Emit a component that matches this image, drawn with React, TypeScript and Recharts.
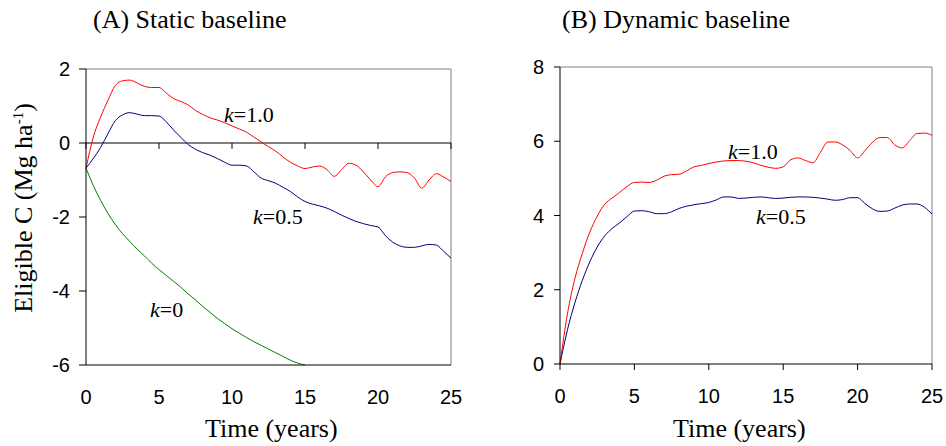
import { LineChart, Line, XAxis, YAxis, ReferenceLine } from 'recharts'

// time axis, every half year
const years = [0, 0.5, 1, 1.5, 2, 2.5, 3, 3.5, 4, 4.5, 5, 5.5, 6, 6.5, 7, 7.5, 8, 8.5, 9, 9.5, 10, 10.5, 11, 11.5, 12, 12.5, 13, 13.5, 14, 14.5, 15, 15.5, 16, 16.5, 17, 17.5, 18, 18.5, 19, 19.5, 20, 20.5, 21, 21.5, 22, 22.5, 23, 23.5, 24, 24.5, 25]

// (A) static baseline
const staticK10 = [-0.68, 0.16, 0.7, 1.15, 1.55, 1.68, 1.7, 1.62, 1.53, 1.5, 1.5, 1.35, 1.2, 1.12, 1.03, 0.88, 0.77, 0.68, 0.62, 0.55, 0.46, 0.38, 0.29, 0.16, 0.03, -0.1, -0.22, -0.38, -0.52, -0.62, -0.69, -0.65, -0.62, -0.72, -0.9, -0.72, -0.55, -0.6, -0.78, -1.0, -1.18, -0.92, -0.8, -0.78, -0.8, -0.95, -1.22, -1.0, -0.83, -0.92, -1.04]
const staticK05 = [-0.68, -0.42, -0.12, 0.25, 0.6, 0.76, 0.82, 0.78, 0.74, 0.74, 0.73, 0.57, 0.35, 0.15, -0.04, -0.17, -0.26, -0.33, -0.42, -0.52, -0.6, -0.6, -0.62, -0.78, -0.95, -1.02, -1.09, -1.2, -1.31, -1.46, -1.58, -1.65, -1.7, -1.76, -1.85, -1.95, -2.04, -2.12, -2.18, -2.23, -2.27, -2.5, -2.68, -2.78, -2.82, -2.82, -2.78, -2.74, -2.76, -2.93, -3.11]
const staticK0 = [-0.68, -1.15, -1.55, -1.9, -2.2, -2.45, -2.66, -2.87, -3.05, -3.25, -3.42, -3.58, -3.74, -3.9, -4.08, -4.24, -4.42, -4.58, -4.74, -4.88, -5.02, -5.14, -5.26, -5.37, -5.47, -5.57, -5.67, -5.77, -5.87, -5.95, -6.0, null, null, null, null, null, null, null, null, null, null, null, null, null, null, null, null, null, null, null, null]

// (B) dynamic baseline
const dynK10 = [0, 1.35, 2.3, 2.98, 3.55, 3.98, 4.3, 4.47, 4.62, 4.78, 4.89, 4.9, 4.89, 4.95, 5.06, 5.1, 5.11, 5.2, 5.31, 5.35, 5.4, 5.44, 5.47, 5.48, 5.48, 5.46, 5.42, 5.35, 5.3, 5.27, 5.31, 5.5, 5.55, 5.48, 5.42, 5.7, 5.98, 5.98, 5.9, 5.75, 5.55, 5.75, 5.97, 6.1, 6.1, 5.9, 5.82, 6.02, 6.21, 6.22, 6.16]
const dynK05 = [0, 0.92, 1.65, 2.25, 2.75, 3.15, 3.45, 3.65, 3.8, 3.97, 4.12, 4.13, 4.1, 4.05, 4.05, 4.1, 4.19, 4.25, 4.29, 4.32, 4.35, 4.42, 4.5, 4.5, 4.46, 4.47, 4.49, 4.5, 4.48, 4.46, 4.47, 4.49, 4.5, 4.5, 4.49, 4.47, 4.44, 4.41, 4.43, 4.48, 4.48, 4.32, 4.18, 4.11, 4.12, 4.2, 4.28, 4.31, 4.31, 4.22, 4.04]

const xTicks = [0, 5, 10, 15, 20, 25]
const staticYTicks = [-6, -4, -2, 0, 2]
const dynamicYTicks = [0, 2, 4, 6, 8]

const staticData = years.map((t, i) => ({ t, k10: staticK10[i], k05: staticK05[i], k0: staticK0[i] }))
const dynamicData = years.map((t, i) => ({ t, k10: dynK10[i], k05: dynK05[i] }))

const SANS = '"Liberation Sans", Arial, sans-serif'
const SERIF = '"Liberation Serif", "Times New Roman", serif'
const RED = '#ff0000'
const BLUE = '#000080'
const GREEN = '#008000'
const BORDER = '#808080'

const tickStyle = { fontSize: 20, fill: '#000', fontFamily: SANS }

function Txt({ left, top, size = 26, children }: { left: number; top: number; size?: number; children: React.ReactNode }) {
  return (
    <div style={{ position: 'absolute', left, top, fontFamily: SERIF, fontSize: size, lineHeight: 1, whiteSpace: 'nowrap', color: '#000' }}>
      {children}
    </div>
  )
}

function CurveLabel({ left, top, value }: { left: number; top: number; value: string }) {
  return <Txt left={left} top={top} size={22}><i>k</i>={value}</Txt>
}

export default function App() {
  return (
    <div style={{ position: 'absolute', left: 0, top: 0, width: 946, height: 446, background: '#fff', overflow: 'hidden' }}>
      <div style={{ position: 'absolute', left: 0, top: 0 }}>
        <LineChart width={470} height={446} data={staticData} margin={{ top: 69, right: 19, bottom: 51, left: 46 }}>
          <XAxis dataKey="t" type="number" domain={[0, 25]} ticks={xTicks} interval={0} height={30}
            axisLine={{ stroke: '#000' }} tickLine={false} tickSize={6} tickMargin={19} tick={tickStyle} />
          <YAxis type="number" domain={[-6, 2]} ticks={staticYTicks} interval={0} width={40}
            axisLine={{ stroke: '#000' }} tickLine={{ stroke: '#000' }} tickSize={7} tickMargin={9} tick={tickStyle} />
          <ReferenceLine y={2} stroke={BORDER} />
          <ReferenceLine x={25} stroke={BORDER} />
          <ReferenceLine y={0} stroke="#000" />
          {xTicks.map((t) => (
            <ReferenceLine key={t} segment={[{ x: t, y: 0 }, { x: t, y: -0.16 }]} stroke="#000" />
          ))}
          <Line dataKey="k0" type="monotone" stroke={GREEN} strokeWidth={1} dot={false} isAnimationActive={false} />
          <Line dataKey="k05" type="monotone" stroke={BLUE} strokeWidth={1} dot={false} isAnimationActive={false} />
          <Line dataKey="k10" type="monotone" stroke={RED} strokeWidth={1} dot={false} isAnimationActive={false} />
        </LineChart>
      </div>
      <div style={{ position: 'absolute', left: 470, top: 0 }}>
        <LineChart width={476} height={446} data={dynamicData} margin={{ top: 67, right: 14, bottom: 52, left: 50 }}>
          <XAxis dataKey="t" type="number" domain={[0, 25]} ticks={xTicks} interval={0} height={30}
            axisLine={{ stroke: '#000' }} tickLine={{ stroke: '#000' }} tickSize={6} tickMargin={19} tick={tickStyle} />
          <YAxis type="number" domain={[0, 8]} ticks={dynamicYTicks} interval={0} width={40}
            axisLine={{ stroke: '#000' }} tickLine={{ stroke: '#000' }} tickSize={6} tickMargin={10} tick={tickStyle} />
          <ReferenceLine y={8} stroke={BORDER} />
          <ReferenceLine x={25} stroke={BORDER} />
          <Line dataKey="k05" type="monotone" stroke={BLUE} strokeWidth={1} dot={false} isAnimationActive={false} />
          <Line dataKey="k10" type="monotone" stroke={RED} strokeWidth={1} dot={false} isAnimationActive={false} />
        </LineChart>
      </div>

      <Txt left={93} top={7}>(A) Static baseline</Txt>
      <Txt left={562} top={7}>(B) Dynamic baseline</Txt>
      <Txt left={205} top={416}>Time (years)</Txt>
      <Txt left={673} top={416}>Time (years)</Txt>

      <div style={{ position: 'absolute', left: 24, top: 208, transform: 'translate(-50%, -50%) rotate(-90deg)', fontFamily: SERIF, fontSize: 26, lineHeight: 1, whiteSpace: 'nowrap' }}>
        Eligible C (Mg ha<sup style={{ fontSize: 15 }}>-1</sup>)
      </div>

      <CurveLabel left={224} top={104} value="1.0" />
      <CurveLabel left={253} top={206} value="0.5" />
      <CurveLabel left={150} top={299} value="0" />
      <CurveLabel left={728} top={141} value="1.0" />
      <CurveLabel left={756} top={206} value="0.5" />
    </div>
  )
}
